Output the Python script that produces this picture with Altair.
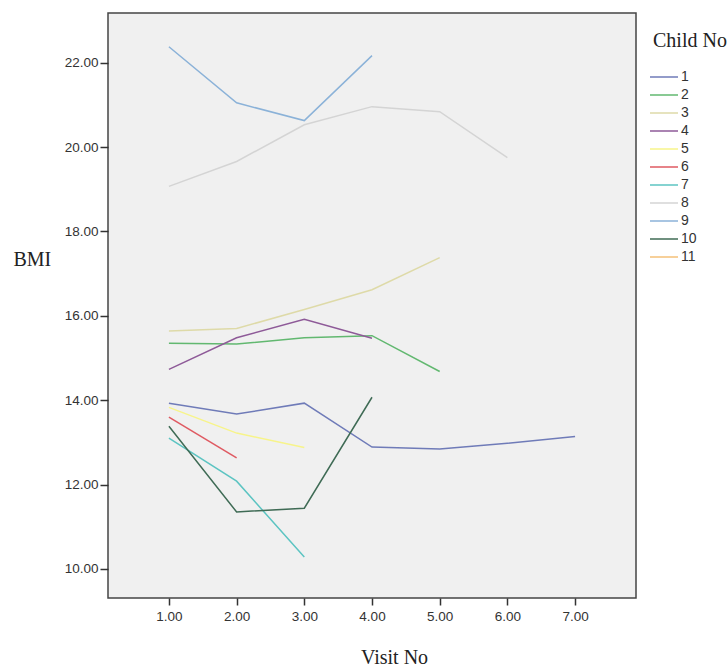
import altair as alt
import pandas as pd

visits = [1, 2, 3, 4, 5, 6, 7]
child_ids = ["1", "2", "3", "4", "5", "6", "7", "8", "9", "10", "11"]

bmi_1 = [13.93, 13.67, 13.93, 12.89, 12.84, 12.98, 13.14]
bmi_2 = [15.35, 15.33, 15.48, 15.53, 14.68]
bmi_3 = [15.64, 15.70, 16.15, 16.62, 17.38]
bmi_4 = [14.73, 15.48, 15.92, 15.47]
bmi_5 = [13.83, 13.22, 12.88]
bmi_6 = [13.60, 12.63]
bmi_7 = [13.10, 12.08, 10.28]
bmi_8 = [19.07, 19.66, 20.53, 20.96, 20.84, 19.75]
bmi_9 = [22.38, 21.05, 20.63, 22.17]
bmi_10 = [13.38, 11.35, 11.44, 14.07]
bmi_11 = []

colors = ["#6f7bb8", "#62b870", "#dedaa8", "#8e5a98", "#f7f48a", "#df5a62",
          "#5cc4c2", "#d4d4d4", "#8bb2d8", "#3f6b55", "#f4c078"]

series = [bmi_1, bmi_2, bmi_3, bmi_4, bmi_5, bmi_6, bmi_7, bmi_8, bmi_9, bmi_10, bmi_11]
rows = []
for cid, vals in zip(child_ids, series):
    for v, b in zip(visits, vals):
        rows.append({"Visit No": v, "BMI": b, "Child No": cid})
df = pd.DataFrame(rows)

serif = "Liberation Serif"
sans = "Liberation Sans"

chart = alt.Chart(df).mark_line(strokeWidth=1.5).encode(
    x=alt.X("Visit No:Q",
            scale=alt.Scale(domain=[0.1, 7.9], nice=False, zero=False),
            axis=alt.Axis(values=visits, format=".2f", grid=False, domain=False,
                          tickSize=7, tickColor="#333", tickWidth=1.5, labelPadding=4,
                          labelFont=sans, labelFontSize=13.5, labelColor="#333",
                          title="Visit No", titleFont=serif, titleFontSize=20,
                          titleFontWeight="normal", titleColor="#222",
                          titleX=286, titleAlign="center",
                          titleY=65, titleBaseline="alphabetic")),
    y=alt.Y("BMI:Q",
            scale=alt.Scale(domain=[9.31, 23.18], nice=False, zero=False),
            axis=alt.Axis(values=[10, 12, 14, 16, 18, 20, 22], format=".2f",
                          grid=False, domain=False, tickSize=8, tickColor="#333",
                          tickWidth=1.5, labelPadding=2, labelFont=sans,
                          labelFontSize=13.5, labelColor="#333", title="BMI",
                          titleFont=serif, titleFontSize=20,
                          titleFontWeight="normal", titleColor="#222",
                          titleAngle=0, titleX=-95, titleY=252,
                          titleAlign="left", titleBaseline="alphabetic")),
    color=alt.Color("Child No:N",
                    scale=alt.Scale(domain=child_ids, range=colors),
                    sort=child_ids,
                    legend=alt.Legend(orient="none", legendX=545, legendY=18,
                                      title="Child No", titleFont=serif,
                                      titleFontSize=20, titleFontWeight="normal",
                                      titleColor="#222", titlePadding=15,
                                      labelFont=sans, labelFontSize=14,
                                      labelColor="#333", symbolType="M-1.4,0H1.4",
                                      symbolSize=400, symbolStrokeWidth=1.5,
                                      rowPadding=0, labelOffset=6)),
    detail="Child No:N",
).properties(
    width=528, height=585,
    padding={"left": 108, "top": 13, "right": 92, "bottom": 69},
    autosize=alt.AutoSizeParams(type="none"),
    background="white",
).configure_view(
    fill="#f0f0f0", stroke="#444", strokeWidth=1.5
)

chart.save("out.html", embed_options={"renderer": "svg", "actions": False})
